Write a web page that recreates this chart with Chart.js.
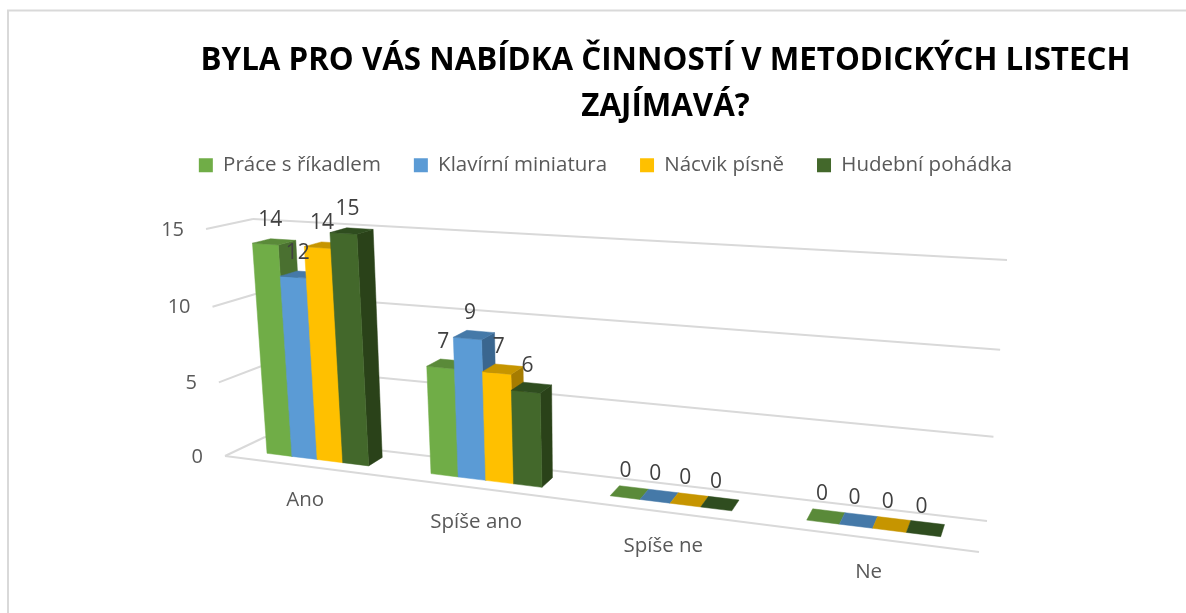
<!DOCTYPE html>
<html>
<head>
<meta charset="utf-8">
<style>
html, body { margin: 0; padding: 0; background: #fff; }
#wrap { width: 1186px; height: 613px; }
</style>
<script src="https://cdn.jsdelivr.net/npm/chart.js@4"></script>
</head>
<body>
<div id="wrap"><canvas id="graf"></canvas></div>
<script>
const categories = ['Ano', 'Spíše ano', 'Spíše ne', 'Ne'];
const praceSRikadlem = [14, 7, 0, 0];
const klavirniMiniatura = [12, 9, 0, 0];
const nacvikPisne = [14, 7, 0, 0];
const hudebniPohadka = [15, 6, 0, 0];
const seriesNames = ['Práce s říkadlem', 'Klavírní miniatura', 'Nácvik písně', 'Hudební pohádka'];
const frontColors = ['#70AD47', '#5B9BD5', '#FFC000', '#43682B'];
const topColors = ['#5A8A39', '#4579A8', '#C69500', '#2F4D1F'];
const sideColors = ['#4A7030', '#3A668F', '#A67C00', '#2A4219'];

// rohy "kvadru" grafu na platne: predni a zadni rovina (dole vlevo, dole vpravo, nahore vpravo, nahore vlevo)
const frontPlane = [[225, 456], [979, 552], [994, 282], [206, 229]];
const backPlane = [[265, 437], [987, 521], [1007, 260], [253, 219]];
const barFront = 0.33;
const barBack = 0.73;

function quadMatrix(q) {
    const [[x0, y0], [x1, y1], [x2, y2], [x3, y3]] = q;
    const dx1 = x1 - x2, dx2 = x3 - x2, sx = x0 - x1 + x2 - x3;
    const dy1 = y1 - y2, dy2 = y3 - y2, sy = y0 - y1 + y2 - y3;
    const den = dx1 * dy2 - dx2 * dy1;
    const g = (sx * dy2 - dx2 * sy) / den;
    const h = (dx1 * sy - sx * dy1) / den;
    return [x1 - x0 + g * x1, x3 - x0 + h * x3, x0, y1 - y0 + g * y1, y3 - y0 + h * y3, y0, g, h];
}
const frontM = quadMatrix(frontPlane);
const backM = quadMatrix(backPlane);

function applyM(m, u, v) {
    const d = m[6] * u + m[7] * v + 1;
    return [(m[0] * u + m[1] * v + m[2]) / d, (m[3] * u + m[4] * v + m[5]) / d];
}
function project(u, v, w) {
    const a = applyM(frontM, u, v);
    const b = applyM(backM, u, v);
    return [a[0] + (b[0] - a[0]) * w, a[1] + (b[1] - a[1]) * w];
}
function poly(ctx, pts, color) {
    ctx.beginPath();
    pts.forEach((p, i) => i ? ctx.lineTo(p[0], p[1]) : ctx.moveTo(p[0], p[1]));
    ctx.closePath();
    ctx.fillStyle = color;
    ctx.fill();
    ctx.strokeStyle = color;
    ctx.lineWidth = 0.5;
    ctx.stroke();
}
function line(ctx, a, b) {
    ctx.beginPath();
    ctx.moveTo(a[0], a[1]);
    ctx.lineTo(b[0], b[1]);
    ctx.stroke();
}

const perspective3d = {
    id: 'perspective3d',
    beforeDraw(chart) {
        const ctx = chart.ctx;
        ctx.save();
        ctx.strokeStyle = '#D9D9D9';
        ctx.lineWidth = 2;
        ctx.beginPath();
        ctx.moveTo(8, 613);
        ctx.lineTo(8, 10.5);
        ctx.lineTo(1186, 10.5);
        ctx.stroke();
        ctx.restore();
    },
    beforeDatasetsDraw(chart) {
        const ctx = chart.ctx;
        const area = chart.chartArea;
        const xs = chart.scales.x;
        const ys = chart.scales.y;
        const toU = px => (px - area.left) / (area.right - area.left);
        const toV = py => (area.bottom - py) / (area.bottom - area.top);
        ctx.save();

        // mrizka na zadni stene a na boku
        ctx.strokeStyle = '#D9D9D9';
        ctx.lineWidth = 2;
        ys.ticks.forEach(t => {
            const v = toV(ys.getPixelForValue(t.value));
            line(ctx, project(0, v, 0), project(0, v, 1));
            line(ctx, project(0, v, 1), project(1, v, 1));
        });
        line(ctx, project(0, 0, 0), project(1, 0, 0));

        // popisky osy y
        ctx.font = '20px "Open Sans"';
        ctx.fillStyle = '#595959';
        ctx.textAlign = 'right';
        ctx.textBaseline = 'middle';
        ys.ticks.forEach(t => {
            const p = project(0, toV(ys.getPixelForValue(t.value)), 0);
            ctx.fillText(t.label, p[0] - 22, p[1] + 1);
        });

        // popisky kategorii
        ctx.textAlign = 'center';
        ctx.font = '20.5px "Open Sans"';
        categories.forEach((c, i) => {
            const p = project(toU(xs.getPixelForValue(i)), 0, 0);
            ctx.fillText(xs.getLabelForValue(i), p[0], p[1] + 34);
        });

        // sloupce zleva doprava
        const labels = [];
        categories.forEach((c, i) => {
            chart.data.datasets.forEach((ds, d) => {
                const bar = chart.getDatasetMeta(d).data[i];
                const u0 = toU(bar.x - bar.width / 2);
                const u1 = toU(bar.x + bar.width / 2);
                const v0 = toV(bar.base);
                const v1 = toV(bar.y);
                if (ds.data[i] > 0) {
                    poly(ctx, [project(u1, v0, barFront), project(u1, v0, barBack), project(u1, v1, barBack), project(u1, v1, barFront)], sideColors[d]);
                    poly(ctx, [project(u0, v0, barFront), project(u1, v0, barFront), project(u1, v1, barFront), project(u0, v1, barFront)], frontColors[d]);
                }
                poly(ctx, [project(u0, v1, barFront), project(u1, v1, barFront), project(u1, v1, barBack), project(u0, v1, barBack)], topColors[d]);
                const p = project((u0 + u1) / 2, v1, (barFront + barBack) / 2);
                labels.push({ text: String(ds.data[i]), x: p[0] - 4, y: p[1] - 22 });
            });
        });

        // popisky hodnot az nad vsemi sloupci
        ctx.font = '21px "Open Sans"';
        ctx.fillStyle = '#404040';
        labels.forEach(l => ctx.fillText(l.text, l.x, l.y));
        ctx.restore();
        return false;
    }
};

new Chart(document.getElementById('graf'), {
    type: 'bar',
    data: {
        labels: categories,
        datasets: [
            { label: seriesNames[0], data: praceSRikadlem, backgroundColor: frontColors[0] },
            { label: seriesNames[1], data: klavirniMiniatura, backgroundColor: frontColors[1] },
            { label: seriesNames[2], data: nacvikPisne, backgroundColor: frontColors[2] },
            { label: seriesNames[3], data: hudebniPohadka, backgroundColor: frontColors[3] }
        ]
    },
    plugins: [perspective3d],
    options: {
        responsive: true,
        maintainAspectRatio: false,
        animation: false,
        layout: { padding: { left: 25 } },
        datasets: { bar: { barPercentage: 1, categoryPercentage: 0.63 } },
        scales: {
            x: {
                ticks: { display: false },
                grid: { display: false },
                border: { display: false }
            },
            y: {
                min: 0,
                max: 15,
                ticks: { display: false, stepSize: 5 },
                grid: { display: false },
                border: { display: false },
                afterFit: scale => { scale.width = 120; }
            }
        },
        plugins: {
            title: {
                display: true,
                fullSize: false,
                text: ['BYLA PRO VÁS NABÍDKA ČINNOSTÍ V METODICKÝCH LISTECH', 'ZAJÍMAVÁ?'],
                color: '#000',
                font: { family: '"Open Sans"', size: 31.3, weight: 'bold', lineHeight: 46 / 31.3 },
                padding: { top: 38, bottom: -8 }
            },
            legend: {
                position: 'top',
                labels: {
                    color: '#595959',
                    font: { family: '"Open Sans"', size: 20.5 },
                    boxWidth: 14,
                    boxHeight: 14,
                    padding: 33
                }
            },
            tooltip: { enabled: false }
        }
    }
});
</script>
</body>
</html>
